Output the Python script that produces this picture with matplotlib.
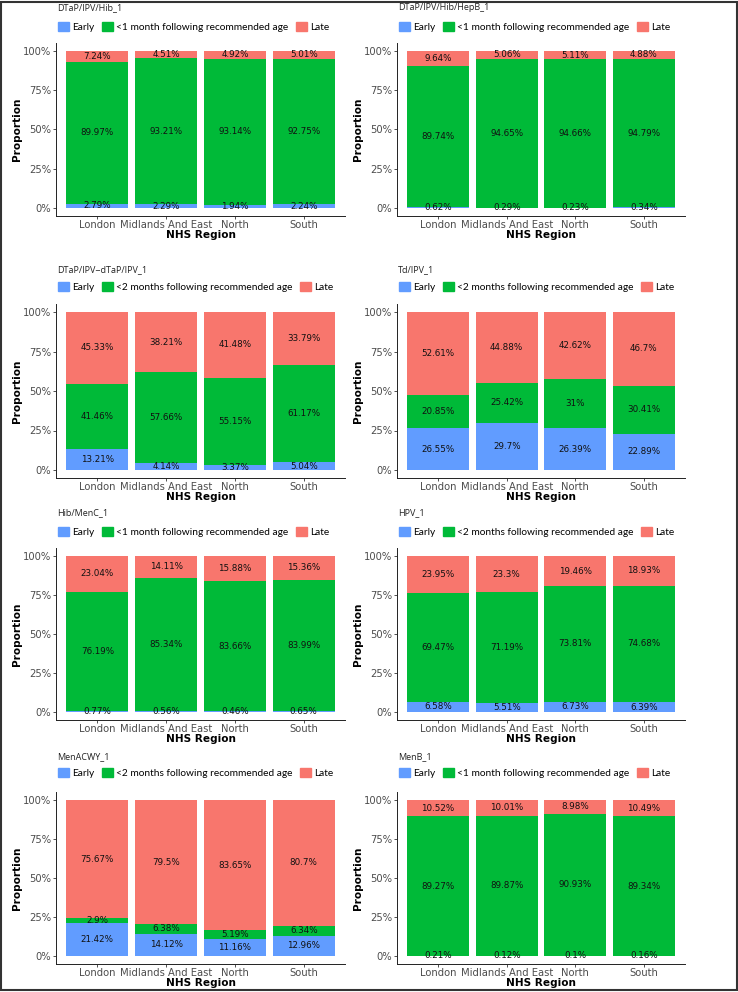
import numpy as np
import matplotlib
matplotlib.use("Agg")
import matplotlib.pyplot as plt
from matplotlib.patches import Patch, Rectangle
from matplotlib.ticker import PercentFormatter

############################################
# data
############################################

regions = ["London", "Midlands And East", "North", "South"]

titles = [
    "DTaP/IPV/Hib_1", "DTaP/IPV/Hib/HepB_1",
    "DTaP/IPV~dTaP/IPV_1", "Td/IPV_1",
    "Hib/MenC_1", "HPV_1",
    "MenACWY_1", "MenB_1",
]

windows = [
    "<1 month", "<1 month",
    "<2 months", "<2 months",
    "<1 month", "<2 months",
    "<2 months", "<1 month",
]

early = [
    [2.79, 2.29, 1.94, 2.24],
    [0.62, 0.29, 0.23, 0.34],
    [13.21, 4.14, 3.37, 5.04],
    [26.55, 29.7, 26.39, 22.89],
    [0.77, 0.56, 0.46, 0.65],
    [6.58, 5.51, 6.73, 6.39],
    [21.42, 14.12, 11.16, 12.96],
    [0.21, 0.12, 0.1, 0.16],
]

on_time = [
    [89.97, 93.21, 93.14, 92.75],
    [89.74, 94.65, 94.66, 94.79],
    [41.46, 57.66, 55.15, 61.17],
    [20.85, 25.42, 31, 30.41],
    [76.19, 85.34, 83.66, 83.99],
    [69.47, 71.19, 73.81, 74.68],
    [2.9, 6.38, 5.19, 6.34],
    [89.27, 89.87, 90.93, 89.34],
]

late = [
    [7.24, 4.51, 4.92, 5.01],
    [9.64, 5.06, 5.11, 4.88],
    [45.33, 38.21, 41.48, 33.79],
    [52.61, 44.88, 42.62, 46.7],
    [23.04, 14.11, 15.88, 15.36],
    [23.95, 23.3, 19.46, 18.93],
    [75.67, 79.5, 83.65, 80.7],
    [10.52, 10.01, 8.98, 10.49],
]

############################################
# layout (pixels)
############################################

W, H = 738, 992
col_x = [(56, 345), (397, 685)]
row_y = [(51, 208), (312, 470), (556, 712), (800, 956)]   # y of 100% / 0%
title_y = [8, 270, 513, 757]
legend_y = [27, 287, 532, 773]

c_early = "#619CFF"
c_on = "#00BA38"
c_late = "#F8766D"

fig = plt.figure(figsize=(W / 100, H / 100), dpi=100)

for i in range(8):
    r, c = divmod(i, 2)
    x0, x1 = col_x[c]
    y100, y0 = row_y[r]
    ppu = (y0 - y100) / 100.0
    top = y100 - 5 * ppu
    bot = y0 + 5 * ppu
    ax = fig.add_axes([x0 / W, 1 - bot / H, (x1 - x0) / W, (bot - top) / H])

    x = np.arange(len(regions))
    e = np.array(early[i])
    o = np.array(on_time[i])
    l = np.array(late[i])

    b1 = ax.bar(x, e, 0.9, color=c_early)
    b2 = ax.bar(x, o, 0.9, bottom=e, color=c_on)
    b3 = ax.bar(x, l, 0.9, bottom=e + o, color=c_late)
    for bars, vals in ((b1, e), (b2, o), (b3, l)):
        ax.bar_label(bars, labels=[f"{v:g}%" for v in vals], label_type="center",
                     fontsize=6.3, color="#111111")

    ax.set_xlim(-0.6, 3.6)
    ax.set_ylim(-5, 105)
    ax.set_xticks(x)
    ax.set_xticklabels(regions)
    ax.set_yticks([0, 25, 50, 75, 100])
    ax.yaxis.set_major_formatter(PercentFormatter(decimals=0))
    ax.tick_params(axis="both", labelsize=7.2, labelcolor="#4D4D4D", color="#333333",
                   length=2.5, width=0.6)
    ax.tick_params(axis="x", pad=0.8)
    ax.tick_params(axis="y", pad=1)
    for s in ("top", "right"):
        ax.spines[s].set_visible(False)
    for s in ("left", "bottom"):
        ax.spines[s].set_linewidth(0.7)
        ax.spines[s].set_color("#222222")

    h = bot - top
    ax.set_xlabel("NHS Region", fontsize=7.6, fontweight="bold")
    ax.set_ylabel("Proportion", fontsize=7.6, fontweight="bold")
    ax.xaxis.set_label_coords(0.5, -19.0 / h)
    ax.xaxis.label.set_va("center")
    ax.yaxis.set_label_coords(-38.5 / (x1 - x0), 0.5)
    ax.yaxis.label.set_va("center")

    fig.text((x0 + 1) / W, 1 - title_y[r] / H, titles[i], fontsize=6.5,
             family="Open Sans", color="#222222", va="center", ha="left")

    handles = [Patch(color=c_early), Patch(color=c_on), Patch(color=c_late)]
    labels = ["Early", f"{windows[i]} following recommended age", "Late"]
    fig.legend(handles, labels, ncol=3, loc="center left",
               bbox_to_anchor=((x0 + 2) / W, 1 - legend_y[r] / H),
               frameon=False, borderpad=0, borderaxespad=0,
               handlelength=1.05, handleheight=1.05, handletextpad=0.3,
               columnspacing=0.8, prop={"family": "Lato", "size": 7.3})

fig.patches.append(Rectangle((0.001, 0.002), 0.998, 0.996, transform=fig.transFigure,
                             fill=False, edgecolor="#333333", linewidth=1.5))

fig.savefig("out.png", dpi=100)
